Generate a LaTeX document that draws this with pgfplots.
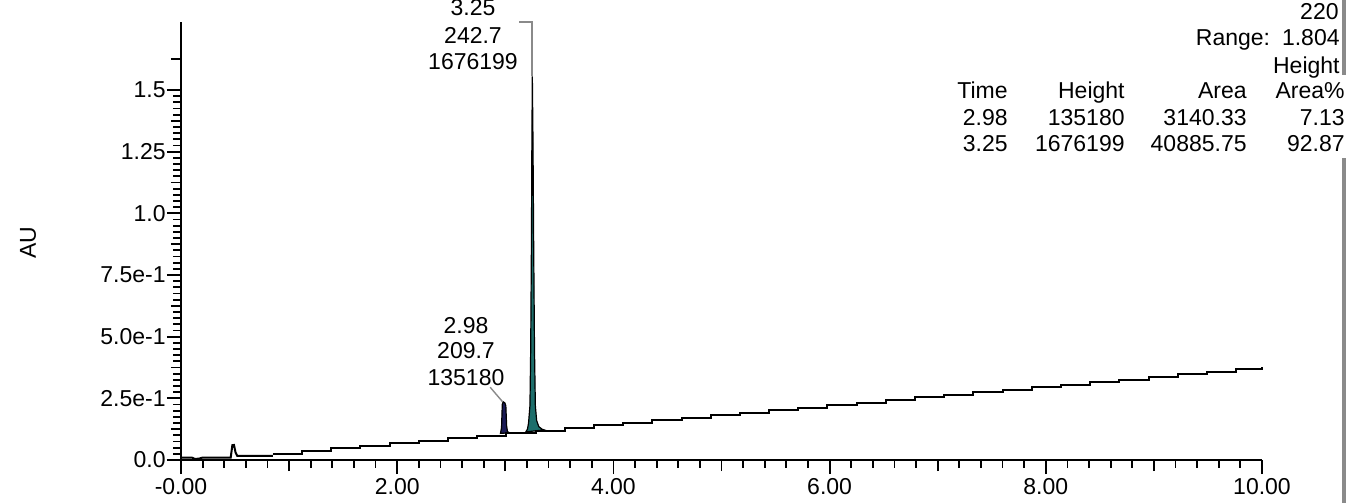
\documentclass[border=0pt]{standalone}
\usepackage{fontspec}
\setmainfont{Liberation Sans}
\usepackage{pgfplots}
\pgfplotsset{compat=1.18}
\definecolor{navypk}{HTML}{1A1A55}
\definecolor{tealpk}{HTML}{1D6E6B}
\definecolor{mgrey}{HTML}{8A8A8A}
\begin{document}
\fontsize{11.5}{13.5}\selectfont
\begin{tikzpicture}
\useasboundingbox (0,0) rectangle (679.5pt,-251.5pt);
\clip (0,0) rectangle (679.5pt,-251.5pt);
\begin{axis}[
  at={(90.5pt,-230pt)}, anchor=south west,
  scale only axis, width=540.5pt, height=219pt,
  xmin=0, xmax=10, ymin=0, ymax=1.7755,
  axis lines=left,
  axis line style={line width=1.1pt,-},
  clip=false,
  xtick={0,2,4,6,8,10},
  xticklabels={-0.00,2.00,4.00,6.00,8.00,10.00},
  minor x tick num=9,
  ytick={0,0.25,0.5,0.75,1.0,1.25,1.5},
  yticklabels={0.0,2.5e-1,5.0e-1,7.5e-1,1.0,1.25,1.5},
  minor y tick num=9,
  extra x ticks={1,3,5,7,9},
  extra x tick labels={},
  extra x tick style={major tick length=5.5pt},
  extra y ticks={0.125,0.375,0.625,0.875,1.125,1.375,1.625},
  extra y tick labels={},
  extra y tick style={major tick length=5pt},
  tick align=outside,
  major tick length=7pt, minor tick length=3.8pt,
  tick style={line width=0.9pt, black},
  xticklabel style={inner sep=1pt, yshift=-1pt},
  yticklabel style={inner xsep=0.5pt},
]
% small peak fill
\addplot[fill=navypk, draw=black, line width=0.6pt] coordinates {
 (2.955,0.108) (2.965,0.13) (2.972,0.225) (2.98,0.236) (2.995,0.232)
 (3.005,0.22) (3.012,0.14) (3.02,0.115) (3.04,0.110)
} -- cycle;
% main peak fill
\addplot[fill=tealpk, draw=black, line width=0.6pt] coordinates {
 (3.19,0.114) (3.205,0.125) (3.215,0.15) (3.228,0.22) (3.235,0.45) (3.242,0.9)
 (3.246,1.3) (3.25,1.555) (3.256,1.3) (3.262,0.9) (3.27,0.45)
 (3.278,0.22) (3.29,0.16) (3.31,0.135) (3.34,0.125) (3.36,0.122)
} -- cycle;
% early part of trace
\addplot[black, line width=1pt] coordinates {
 (0.00,0.010) (0.10,0.010) (0.13,0.004) (0.17,0.006) (0.20,0.010)
 (0.46,0.010) (0.475,0.060) (0.49,0.061) (0.505,0.030) (0.52,0.017)
 (0.85,0.017)
};
% stepped baseline
\addplot[black, line width=1pt, const plot] coordinates {
 (0.85,0.026) (1.12,0.036) (1.39,0.047) (1.66,0.057) (1.93,0.067)
 (2.20,0.078) (2.47,0.088) (2.74,0.098) (3.01,0.109) (3.28,0.119)
 (3.55,0.129) (3.82,0.140) (4.09,0.150) (4.36,0.161) (4.63,0.171)
 (4.90,0.181) (5.17,0.192) (5.44,0.202) (5.71,0.212) (5.98,0.223)
 (6.25,0.233) (6.52,0.243) (6.79,0.254) (7.06,0.264) (7.33,0.275)
 (7.60,0.285) (7.87,0.295) (8.14,0.306) (8.41,0.316) (8.68,0.326)
 (8.95,0.337) (9.22,0.347) (9.49,0.358) (9.76,0.368) (10.00,0.377)
};
% peak markers
\draw[mgrey, line width=0.9pt] (axis cs:3.13,1.7755) -- (axis cs:3.25,1.7755) -- (axis cs:3.25,1.555);
\draw[mgrey, line width=0.7pt] (axis cs:2.86,0.295) -- (axis cs:2.975,0.236);
\end{axis}
\begin{scope}[x=0.5pt, y=-0.5pt]
  \node[rotate=90, anchor=center] at (28,243) {AU};
  % peak labels
  \node[anchor=base] at (473,16) {3.25};
  \node[anchor=base] at (473,43) {242.7};
  \node[anchor=base] at (473,69) {1676199};
  \node[anchor=base] at (466,333) {2.98};
  \node[anchor=base] at (466,358) {209.7};
  \node[anchor=base] at (466,385) {135180};
  % right header
  \node[anchor=base east, inner sep=0pt] at (1339,19) {220};
  \node[anchor=base east, inner sep=0pt] at (1340,46) {Range:\hspace{0.15em} 1.804};
  \node[anchor=base east, inner sep=0pt] at (1340,73) {Height};
  % table
  \node[anchor=base east, inner sep=0pt] at (1008,98) {Time};
  \node[anchor=base east, inner sep=0pt] at (1125,98) {Height};
  \node[anchor=base east, inner sep=0pt] at (1247,98) {Area};
  \node[anchor=base east, inner sep=0pt] at (1345,98) {Area\%};
  \node[anchor=base east, inner sep=0pt] at (1008,125) {2.98};
  \node[anchor=base east, inner sep=0pt] at (1125,125) {135180};
  \node[anchor=base east, inner sep=0pt] at (1247,125) {3140.33};
  \node[anchor=base east, inner sep=0pt] at (1345,125) {7.13};
  \node[anchor=base east, inner sep=0pt] at (1008,151) {3.25};
  \node[anchor=base east, inner sep=0pt] at (1125,151) {1676199};
  \node[anchor=base east, inner sep=0pt] at (1247,151) {40885.75};
  \node[anchor=base east, inner sep=0pt] at (1345,151) {92.87};
  % right grey rule
  \draw[mgrey, line width=1.6pt] (1344,0) -- (1344,75);
  \draw[mgrey, line width=1.6pt] (1344,158) -- (1344,503);
\end{scope}
\end{tikzpicture}
\end{document}
